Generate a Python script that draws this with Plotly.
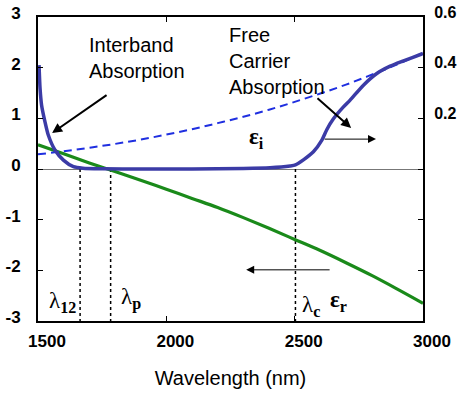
import plotly.graph_objects as go

# ---- data ----
wl_er = [1500, 1600, 1700, 1800, 1900, 2000, 2100, 2200, 2300, 2400, 2500, 2600, 2700, 2800, 2900, 3000]
eps_r = [0.48, 0.30, 0.12, -0.05, -0.22, -0.40, -0.58, -0.76, -0.96, -1.17, -1.39, -1.61, -1.85, -2.10, -2.37, -2.65]

wl_ei = [1504, 1508, 1514, 1527, 1540, 1566, 1599, 1638, 1675, 1750, 1900, 2100, 2300, 2404, 2482, 2503,
         2534, 2573, 2606, 2625, 2651, 2690, 2716, 2768, 2820, 2872, 2924, 2995, 3000]
eps_i = [0.41, 0.318, 0.252, 0.187, 0.134, 0.075, 0.035, 0.009, 0.003, 0.001, 0.0, 0.0, 0.002, 0.005, 0.012, 0.016,
         0.036, 0.068, 0.114, 0.155, 0.198, 0.245, 0.272, 0.331, 0.377, 0.406, 0.427, 0.454, 0.456]

wl_fc = [1500, 1600, 1700, 1800, 1900, 2000, 2100, 2200, 2300, 2400, 2500, 2600, 2700, 2800, 2900, 3000]
eps_fc = [0.058, 0.070, 0.084, 0.099, 0.116, 0.136, 0.157, 0.181, 0.206, 0.234, 0.265, 0.298, 0.333, 0.372, 0.413, 0.458]

lambda_marks = [1664, 1783, 2503]

x_ticks = [1500, 2000, 2500, 3000]
y_left_ticks = [-3, -2, -1, 0, 1, 2, 3]
y_left_labels = ["-3", "-2", "-1", "0", "1", "2", "3"]
y_right_ticks = [-0.6, -0.4, -0.2, 0.0, 0.2, 0.4, 0.6]
y_right_labels = ["", "", "", "", "0.2", "0.4", "0.6"]

FONT = "Liberation Sans, Arial, sans-serif"

fig = go.Figure()

# dotted wavelength markers
for wl in lambda_marks:
    fig.add_trace(go.Scatter(x=[wl, wl], y=[0, -3], mode="lines",
                             line=dict(color="black", width=1.5, dash="dot"),
                             hoverinfo="skip", showlegend=False))

fig.add_trace(go.Scatter(x=wl_er, y=eps_r, mode="lines", line=dict(color="#1a8a1a", width=3.2, shape="spline"),
                         showlegend=False))
fig.add_trace(go.Scatter(x=wl_fc, y=eps_fc, mode="lines", yaxis="y2",
                         line=dict(color="#1f2fe0", width=2, dash="8px,5px", shape="spline"), showlegend=False))
fig.add_trace(go.Scatter(x=wl_ei, y=eps_i, mode="lines", yaxis="y2",
                         line=dict(color="#3b3ba6", width=3.5, shape="spline", smoothing=0.6), showlegend=False))

tickfont = dict(family=FONT, size=17, color="black", weight="bold")

fig.update_layout(
    width=457, height=393,
    margin=dict(l=38, r=34, t=17, b=72),
    paper_bgcolor="white", plot_bgcolor="white",
    font=dict(family=FONT, color="black"),
    xaxis=dict(range=[1500, 3000], tickvals=x_ticks, ticks="inside", ticklen=5, tickcolor="black",
               showline=True, linecolor="black", linewidth=2, mirror="ticks", showgrid=False, zeroline=False,
               tickfont=tickfont, ticklabelshift=9, ticklabelstandoff=4, automargin=False,
               title=dict(text="Wavelength (nm)", font=dict(family=FONT, size=20, color="black"), standoff=21)),
    yaxis=dict(range=[-3, 3], tickvals=y_left_ticks, ticktext=y_left_labels, ticks="inside", ticklen=5,
               tickcolor="black", showline=True, linecolor="black", linewidth=2, showgrid=False,
               zeroline=True, zerolinecolor="#777777", zerolinewidth=1, automargin=False,
               tickfont=tickfont, ticklabelshift=-4, ticklabelstandoff=12),
    yaxis2=dict(range=[-0.6, 0.6], tickvals=y_right_ticks, ticktext=y_right_labels, overlaying="y", side="right",
                ticks="inside", ticklen=5, tickcolor="black", showline=True, linecolor="black", linewidth=2,
                showgrid=False, zeroline=False, tickfont=dict(family=FONT, size=16, color="black", weight="bold"),
                ticklabelshift=-5, ticklabelstandoff=6, automargin=False),
)

ann_font = dict(family=FONT, size=20, color="black")
sym_font = dict(family="Liberation Serif, Times New Roman, serif", size=23, color="black")

fig.add_annotation(x=1691, y=2.19, xref="x", yref="y", text="Interband<br>Absorption", showarrow=False,
                   xanchor="left", yanchor="middle", align="left", font=ann_font)
fig.add_annotation(x=2236, y=2.13, xref="x", yref="y", text="Free<br>Carrier<br>Absorption", showarrow=False,
                   xanchor="left", yanchor="middle", align="left", font=ann_font)

fig.add_annotation(x=2350, y=0.61, xref="x", yref="y", text="<b>ε<sub>i</sub></b>", showarrow=False, font=sym_font)
fig.add_annotation(x=2669, y=-2.60, xref="x", yref="y", text="<b>ε<sub>r</sub></b>", showarrow=False, font=sym_font)
fig.add_annotation(x=1594, y=-2.62, xref="x", yref="y", text="λ<sub><b>12</b></sub>", showarrow=False, font=sym_font)
fig.add_annotation(x=1862, y=-2.56, xref="x", yref="y", text="λ<sub><b>p</b></sub>", showarrow=False, font=sym_font)
fig.add_annotation(x=2564, y=-2.70, xref="x", yref="y", text="λ<sub><b>c</b></sub>", showarrow=False, font=sym_font)

arrows = [
    (1555, 0.71, 1773, 1.48, 2),
    (2720, 0.81, 2583, 1.42, 2),
    (2817, 0.59, 2611, 0.59, 1),
    (2311, -1.99, 2642, -1.99, 1),
]
for hx, hy, tx, ty, w in arrows:
    fig.add_annotation(x=hx, y=hy, ax=tx, ay=ty, xref="x", yref="y", axref="x", ayref="y", text="",
                       showarrow=True, arrowhead=2, arrowsize=1.6 if w == 1 else 1.0, arrowwidth=w,
                       arrowcolor="black", standoff=0)

fig.write_html("out.html", config={"displayModeBar": False}, post_script="document.body.style.margin='0';")
